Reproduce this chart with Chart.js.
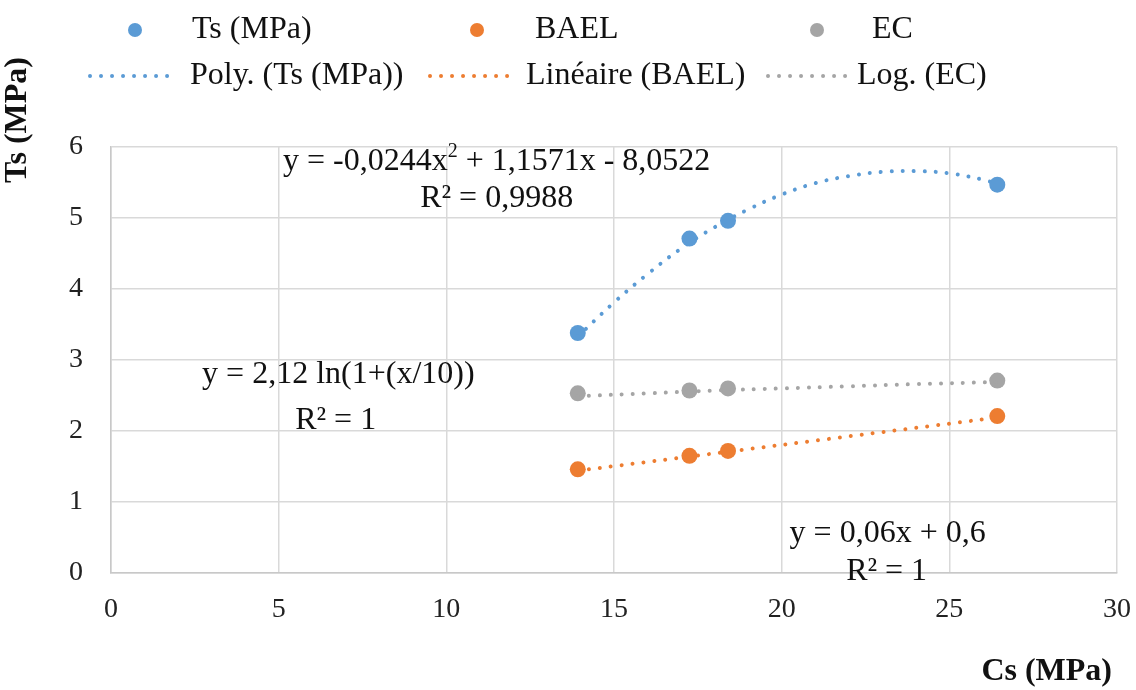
<!DOCTYPE html>
<html>
<head>
<meta charset="utf-8">
<script src="https://cdn.jsdelivr.net/npm/chart.js@4.4.1/dist/chart.umd.min.js"></script>
<style>
  html, body { margin: 0; padding: 0; background: #fff; }
  #myChart { display: block; }
</style>
</head>
<body>
<canvas id="myChart" width="1136" height="690"></canvas>
<script>
// measured points, Cs (MPa) vs Ts (MPa)
var csValues = [13.92, 17.25, 18.4, 26.43];
var tsValues = [3.38, 4.71, 4.96, 5.47];
var baelValues = [1.46, 1.65, 1.72, 2.21];
var ecValues = [2.53, 2.57, 2.6, 2.71];

// trend curves
var polyX = [13.92, 15, 16, 17, 18, 19, 20, 21, 22, 23, 24, 25, 26, 26.43];
var polyY = [3.33, 3.81, 4.21, 4.57, 4.87, 5.12, 5.33, 5.49, 5.59, 5.65, 5.66, 5.63, 5.54, 5.48];
var linX = [13.92, 26.43];
var linY = [1.44, 2.19];
var logX = [13.92, 16, 18, 20, 22, 24, 26.43];
var logY = [2.49, 2.53, 2.57, 2.6, 2.63, 2.66, 2.69];

var xTicks = [0, 5, 10, 15, 20, 25, 30];
var yTicks = [0, 1, 2, 3, 4, 5, 6];

var BLUE = '#5b9bd5', ORANGE = '#ed7d31', GREY = '#a5a5a5';
var SERIF = '"Liberation Serif", "Times New Roman", serif';

pts = (xs, ys) => xs.map((x, i) => ({ x: x, y: ys[i] }))

var markerSet = (label, ys, color) => ({
    label: label,
    data: pts(csValues, ys),
    showLine: false,
    pointRadius: 8,
    pointHoverRadius: 8,
    pointBackgroundColor: color,
    pointBorderColor: color,
    pointBorderWidth: 0,
    order: 2
})

var trendSet = (label, xs, ys, color) => ({
    label: label,
    data: pts(xs, ys),
    showLine: true,
    pointRadius: 0,
    borderColor: color,
    borderWidth: 4,
    borderDash: [0.01, 11],
    borderCapStyle: 'round',
    tension: 0.4,
    fill: false,
    order: 1
})

// equation boxes, anchored in data units
var equations = [
    { x: 11.5, y: 5.8, text: 'y = -0,0244x', sup: '2', rest: ' + 1,1571x - 8,0522' },
    { x: 11.5, y: 5.28, text: 'R² = 0,9988' },
    { x: 6.78, y: 2.8, text: 'y = 2,12 ln(1+(x/10))' },
    { x: 6.7, y: 2.15, text: 'R² = 1' },
    { x: 23.16, y: 0.56, text: 'y = 0,06x + 0,6' },
    { x: 23.13, y: 0.02, text: 'R² = 1' }
];

var legendItems = [
    { kind: 'dot', color: BLUE, text: 'Ts (MPa)', mx: 135, tx: 192, y: 30 },
    { kind: 'dot', color: ORANGE, text: 'BAEL', mx: 477, tx: 535, y: 30 },
    { kind: 'dot', color: GREY, text: 'EC', mx: 817, tx: 872, y: 30 },
    { kind: 'line', color: BLUE, text: 'Poly. (Ts (MPa))', mx: 90, mx2: 168, tx: 190, y: 76 },
    { kind: 'line', color: ORANGE, text: 'Linéaire (BAEL)', mx: 430, mx2: 508, tx: 526, y: 76 },
    { kind: 'line', color: GREY, text: 'Log. (EC)', mx: 768, mx2: 848, tx: 857, y: 76 }
];

var extras = {
    id: 'extras',
    afterDraw: (chart) => {
        var ctx = chart.ctx, xs = chart.scales.x, ys = chart.scales.y;
        ctx.save();
        ctx.fillStyle = '#111';
        ctx.textBaseline = 'middle';

        // equations
        ctx.font = '32px ' + SERIF;
        equations.forEach(e => {
            var cx = xs.getPixelForValue(e.x), cy = ys.getPixelForValue(e.y);
            if (e.sup) {
                var w1 = ctx.measureText(e.text).width;
                ctx.font = '20px ' + SERIF;
                var w2 = ctx.measureText(e.sup).width;
                ctx.font = '32px ' + SERIF;
                var w3 = ctx.measureText(e.rest).width;
                var left = cx - (w1 + w2 + w3) / 2;
                ctx.textAlign = 'left';
                ctx.fillText(e.text, left, cy);
                ctx.font = '20px ' + SERIF;
                ctx.fillText(e.sup, left + w1, cy - 9);
                ctx.font = '32px ' + SERIF;
                ctx.fillText(e.rest, left + w1 + w2, cy);
            } else {
                ctx.textAlign = 'center';
                ctx.fillText(e.text, cx, cy);
            }
        });

        // legend
        legendItems.forEach(it => {
            if (it.kind == 'dot') {
                ctx.fillStyle = it.color;
                ctx.beginPath();
                ctx.arc(it.mx, it.y, 7, 0, Math.PI * 2);
                ctx.fill();
            } else {
                ctx.strokeStyle = it.color;
                ctx.lineWidth = 4;
                ctx.lineCap = 'round';
                ctx.setLineDash([0.01, 11]);
                ctx.beginPath();
                ctx.moveTo(it.mx, it.y);
                ctx.lineTo(it.mx2, it.y);
                ctx.stroke();
                ctx.setLineDash([]);
            }
            ctx.fillStyle = '#111';
            ctx.font = '32px ' + SERIF;
            ctx.textAlign = 'left';
            ctx.fillText(it.text, it.tx, it.y);
        });

        // axis titles
        ctx.font = 'bold 32px ' + SERIF;
        ctx.textAlign = 'right';
        ctx.fillText('Cs (MPa)', 1112, 672);
        ctx.translate(18, 120);
        ctx.rotate(-Math.PI / 2);
        ctx.textAlign = 'center';
        ctx.fillText('Ts (MPa)', 0, 0);
        ctx.restore();
    }
}

var ctx = document.getElementById('myChart').getContext('2d');
var chart = new Chart(ctx, {
    type: 'scatter',
    data: {
        datasets: [
            markerSet('Ts (MPa)', tsValues, BLUE),
            markerSet('BAEL', baelValues, ORANGE),
            markerSet('EC', ecValues, GREY),
            trendSet('Poly. (Ts (MPa))', polyX, polyY, BLUE),
            trendSet('Linéaire (BAEL)', linX, linY, ORANGE),
            trendSet('Log. (EC)', logX, logY, GREY)
        ]
    },
    options: {
        responsive: false,
        animation: false,
        layout: { autoPadding: false, padding: { left: 0, right: 19, top: 147, bottom: 0 } },
        plugins: {
            legend: { display: false },
            tooltip: { enabled: false }
        },
        scales: {
            x: {
                type: 'linear',
                min: 0, max: 30,
                afterFit: (s) => { s.height = 117; s.paddingLeft = 0; s.paddingRight = 0 },
                afterBuildTicks: (s) => { s.ticks = xTicks.map(v => ({ value: v })) },
                ticks: { color: '#222', padding: 20, font: { family: SERIF, size: 28 } },
                grid: { color: '#d9d9d9', lineWidth: 1.5, drawTicks: false },
                border: { color: '#c8c8c8', width: 1.5 }
            },
            y: {
                type: 'linear',
                min: 0, max: 6,
                afterFit: (s) => { s.width = 111; s.paddingTop = 0; s.paddingBottom = 0 },
                afterBuildTicks: (s) => { s.ticks = yTicks.map(v => ({ value: v })) },
                ticks: { color: '#222', padding: 28, font: { family: SERIF, size: 28 } },
                grid: { color: '#d9d9d9', lineWidth: 1.5, drawTicks: false },
                border: { color: '#c8c8c8', width: 1.5 }
            }
        }
    },
    plugins: [extras]
});
</script>
</body>
</html>
